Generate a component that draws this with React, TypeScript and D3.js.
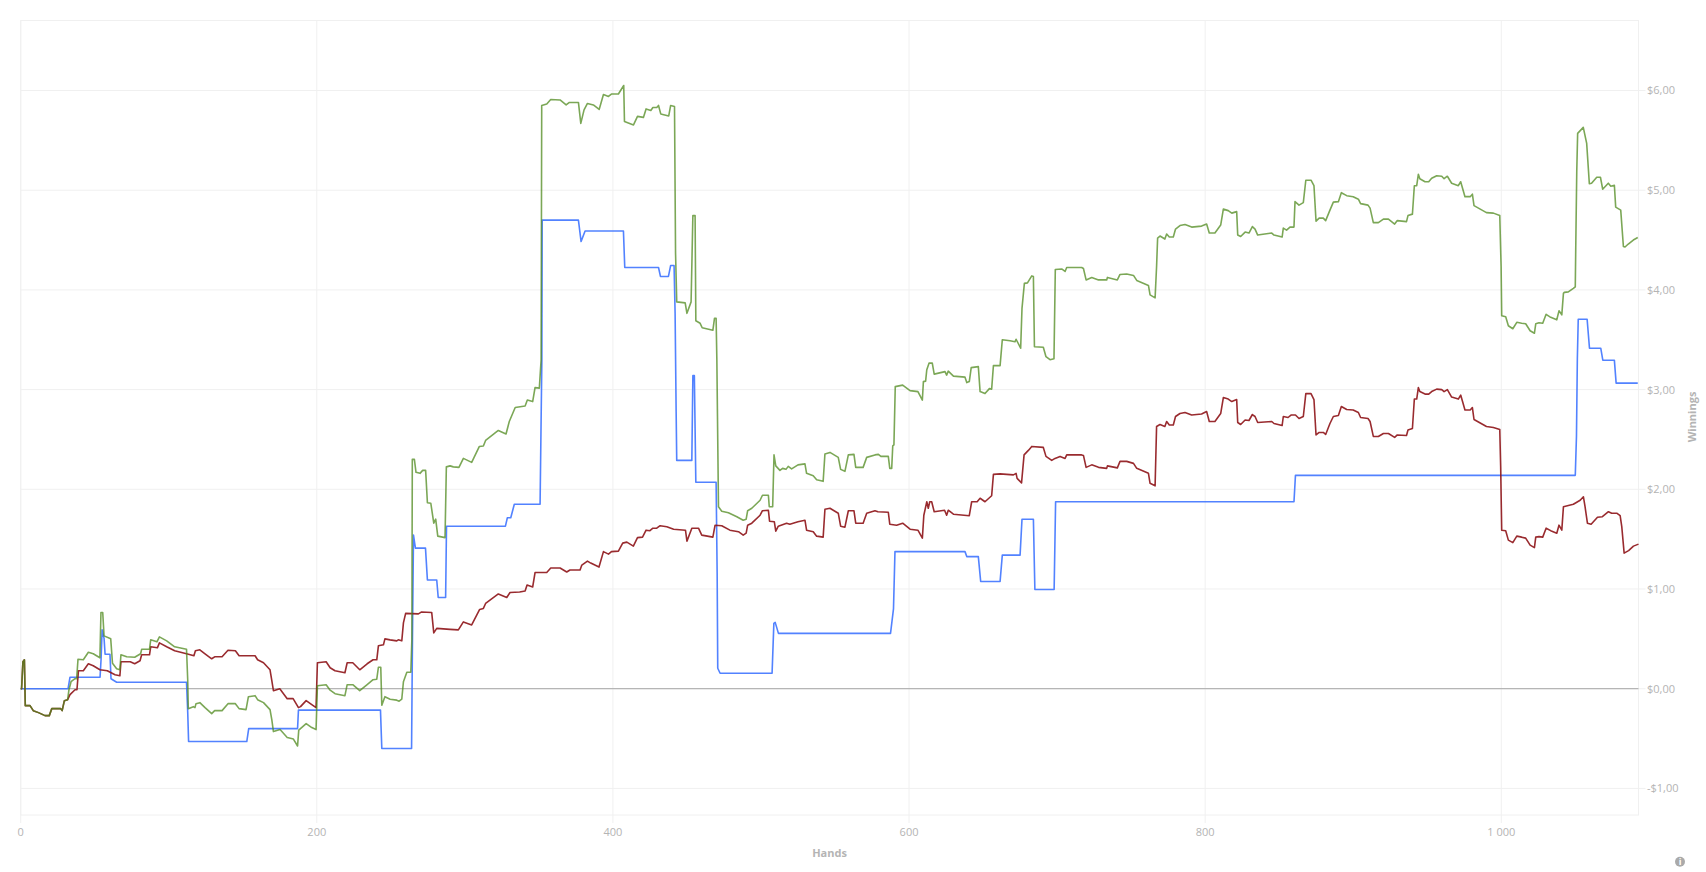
import React from "react";
import * as d3 from "d3";

type P = [number, number];

const xTicks: number[] = [0, 200, 400, 600, 800, 1000];
const xTickLabels: string[] = ["0", "200", "400", "600", "800", "1 000"];
const yTicks: number[] = [-1, 0, 1, 2, 3, 4, 5, 6];
const yTickLabels: string[] = ["-$1,00", "$0,00", "$1,00", "$2,00", "$3,00", "$4,00", "$5,00", "$6,00"];

const sharedStart: P[] = [[0,0],[0.6,0],[1.5,0.27],[2.5,0.29],[3.1,-0.17],[6.3,-0.17],[8.5,-0.22],[12,-0.24],[16.4,-0.27],[19.3,-0.27],[21,-0.2],[27,-0.2],[28,-0.22],[29.5,-0.12],[31.7,-0.11]];

const redSeries: P[] = [...sharedStart,
[33.3,-0.06],[36.7,-0.01],[38,-0.01],[39,0.18],[42.3,0.18],[45.7,0.25],[49,0.23],[53.5,0.19],[58.5,0.18],[63.7,0.14],[67,0.13],[67.7,0.27],[74,0.27],[77,0.25],[80.6,0.28],[81.7,0.34],[87,0.34],[87.8,0.42],[92.3,0.41],[93.7,0.46],[98.6,0.42],[104,0.38],[112,0.35],[117,0.33],[118,0.38],[121,0.39],[124.5,0.35],[129,0.30],[131,0.32],[136,0.32],[140,0.385],[145,0.38],[147.5,0.33],[158.3,0.33],[160,0.29],[164,0.26],[168.4,0.19],[169.5,0.09],[170.7,-0.02],[175,0.0],[180,-0.10],[184,-0.10],[187.6,-0.19],[189,-0.18],[192.8,-0.12],[196.6,-0.16],[199.5,-0.19],[200.4,0.26],[206.3,0.27],[209,0.21],[212.3,0.18],[219,0.16],[220.5,0.26],[224.3,0.26],[229,0.19],[234,0.25],[238,0.29],[240.5,0.29],[241.6,0.43],[245,0.44],[246,0.5],[249.5,0.49],[254,0.48],[255,0.49],[257.4,0.48],[258.5,0.66],[260,0.755],[268.6,0.75],[270.8,0.77],[277.6,0.765],[279,0.56],[281,0.605],[290,0.595],[295.6,0.59],[299,0.67],[304.6,0.64],[310,0.795],[312.5,0.805],[314,0.855],[322.6,0.95],[328.3,0.915],[330.5,0.965],[337,0.97],[340.7,0.98],[342,1.04],[345.8,1.02],[347.4,1.165],[355.3,1.165],[358,1.21],[364.3,1.21],[368.8,1.17],[371,1.19],[377.8,1.19],[379,1.24],[382.8,1.28],[385,1.26],[390.6,1.22],[393.6,1.375],[397,1.35],[399,1.375],[403.7,1.38],[406.6,1.46],[409.4,1.47],[413.8,1.43],[416.6,1.515],[420,1.52],[422.4,1.59],[425,1.585],[427,1.61],[429.6,1.61],[431.9,1.635],[436.4,1.625],[441,1.60],[449,1.59],[450,1.48],[453.3,1.61],[457.8,1.61],[460,1.54],[467.5,1.52],[469,1.64],[473.5,1.635],[479,1.59],[484.8,1.575],[488,1.54],[490,1.56],[491,1.64],[493.8,1.66],[499.4,1.74],[501,1.785],[505,1.79],[505.8,1.68],[509,1.675],[510,1.58],[511.7,1.63],[517.3,1.66],[519.5,1.65],[525,1.675],[529.7,1.69],[530.8,1.59],[535.3,1.575],[537.6,1.53],[542,1.52],[543.2,1.80],[546.6,1.81],[552.2,1.76],[553.8,1.63],[556.7,1.62],[559,1.785],[562.8,1.785],[564,1.66],[569,1.66],[571.4,1.76],[577,1.785],[579,1.775],[586,1.77],[587,1.65],[591.6,1.64],[595.7,1.66],[600.7,1.60],[606,1.59],[609,1.51],[610,1.74],[612,1.875],[613,1.81],[614,1.875],[615.3,1.875],[617,1.775],[624,1.79],[625.4,1.74],[626.5,1.79],[630,1.75],[640.7,1.735],[642.3,1.875],[646,1.875],[648,1.91],[651.3,1.875],[655.8,1.935],[657,2.15],[661.5,2.155],[670.5,2.145],[672.3,2.16],[673,2.11],[676,2.065],[677.7,2.345],[680.6,2.39],[682.9,2.43],[690.7,2.42],[692.5,2.33],[696.4,2.29],[698.6,2.31],[702,2.33],[705.4,2.31],[706.5,2.345],[716.6,2.345],[717.8,2.34],[719.6,2.22],[723.4,2.245],[728,2.22],[733.5,2.21],[734,2.235],[740.7,2.215],[742.5,2.28],[747,2.28],[751.6,2.26],[753.8,2.21],[761.7,2.16],[762.8,2.06],[766.2,2.035],[767.2,2.63],[769.5,2.65],[772.8,2.63],[774,2.68],[775.8,2.645],[778.5,2.645],[780,2.73],[783,2.76],[786.4,2.77],[790.9,2.745],[797.6,2.755],[801,2.78],[802.8,2.68],[806.6,2.68],[810.5,2.76],[812.3,2.92],[815.6,2.905],[818,2.88],[821.3,2.9],[822,2.67],[824,2.65],[827,2.695],[829.6,2.69],[831.9,2.75],[833.7,2.73],[835.5,2.67],[845,2.68],[846.5,2.66],[852,2.64],[852.8,2.73],[856,2.72],[858,2.745],[861,2.745],[863.4,2.71],[866.3,2.73],[868,2.96],[871.5,2.96],[873.5,2.90],[874.9,2.545],[877,2.57],[879.8,2.57],[881.4,2.55],[884.3,2.66],[886.6,2.73],[890,2.74],[892,2.83],[895.6,2.80],[900,2.795],[903.5,2.77],[905,2.72],[910,2.71],[911.4,2.68],[913.6,2.53],[917,2.53],[920.4,2.56],[923.8,2.56],[928,2.52],[929.8,2.545],[936,2.54],[937,2.595],[940,2.61],[941.3,2.905],[942.9,2.905],[944,3.02],[945,2.98],[948.5,2.955],[951,2.955],[953,2.98],[956.4,3.005],[959.8,3.0],[961.4,2.98],[963.6,3.0],[966.5,2.925],[971,2.905],[972.6,2.945],[975.5,2.795],[979,2.795],[980.5,2.82],[981.6,2.70],[990,2.63],[994.7,2.62],[999,2.60],[999.6,2.23],[1000.3,1.59],[1003,1.585],[1004.8,1.49],[1007.8,1.465],[1010.5,1.53],[1013.8,1.52],[1016.5,1.51],[1019.5,1.44],[1022.4,1.415],[1023.3,1.52],[1025.5,1.525],[1028,1.52],[1030.3,1.61],[1033.4,1.585],[1037.5,1.56],[1039,1.64],[1040.9,1.59],[1042,1.825],[1048.7,1.85],[1053.3,1.89],[1055.5,1.925],[1056.6,1.825],[1058.2,1.66],[1060.7,1.65],[1065,1.72],[1068.3,1.725],[1072.4,1.775],[1074.6,1.76],[1078,1.76],[1080.3,1.735],[1081.4,1.625],[1083,1.36],[1086,1.385],[1089.3,1.43],[1092.7,1.45]];

const greenSeries: P[] = [...sharedStart,
[32.6,-0.01],[34,0.07],[36.7,0.10],[37.8,0.10],[38.7,0.295],[42.3,0.29],[45.7,0.365],[49,0.35],[53.5,0.31],[54.2,0.765],[55.4,0.765],[56.3,0.53],[60.8,0.50],[62,0.255],[64.8,0.2],[67,0.19],[67.7,0.34],[71.6,0.32],[77,0.315],[81,0.35],[81.7,0.395],[87,0.395],[87.8,0.49],[92,0.47],[93.7,0.52],[98.6,0.48],[104,0.42],[112,0.395],[112.8,0.09],[113.2,-0.2],[116.6,-0.18],[117.7,-0.19],[118.4,-0.15],[121,-0.14],[124.5,-0.19],[129,-0.25],[131,-0.22],[136,-0.22],[140,-0.15],[145,-0.15],[147.5,-0.2],[152.2,-0.21],[153.8,-0.08],[158.3,-0.07],[160,-0.11],[164,-0.14],[168.4,-0.21],[169.6,-0.31],[170.7,-0.43],[175.2,-0.41],[180,-0.49],[184.2,-0.505],[187,-0.575],[187.8,-0.415],[192.8,-0.35],[196.6,-0.39],[199.5,-0.41],[200.4,0.03],[206.3,0.04],[209,-0.015],[212.3,-0.05],[219,-0.07],[220.5,0.04],[224.3,0.04],[229,-0.02],[234,0.04],[238,0.09],[240.5,0.095],[241.6,0.215],[243.2,0.215],[243.9,-0.165],[246,-0.08],[249.5,-0.105],[254,-0.115],[255.6,-0.125],[257.4,-0.105],[258.5,0.07],[260.8,0.165],[263.5,0.165],[264.2,0.49],[264.5,2.30],[265.9,2.30],[267,2.17],[269.7,2.16],[271.5,2.19],[273.5,2.19],[274.7,1.865],[277,1.86],[279,1.66],[280.3,1.70],[281.7,1.53],[286.6,1.515],[287.5,2.225],[290,2.235],[292.2,2.225],[296,2.22],[299,2.31],[304.6,2.27],[309.8,2.43],[312.5,2.435],[314,2.49],[322.6,2.59],[327.8,2.555],[330,2.68],[334,2.82],[340.7,2.835],[342.2,2.895],[345.8,2.88],[347.4,3.02],[350.3,3.015],[351.5,3.30],[351.9,5.85],[355.3,5.865],[358,5.91],[364.3,5.905],[368.4,5.855],[370.6,5.88],[376.7,5.88],[378.3,5.67],[380.5,5.805],[382.8,5.87],[386.8,5.855],[390.7,5.81],[393.6,5.96],[397,5.94],[399.2,5.965],[403.7,5.965],[407.3,6.05],[407.8,5.69],[413.9,5.655],[416.6,5.74],[420.6,5.73],[422.4,5.815],[425.6,5.80],[427,5.83],[429.6,5.83],[430.8,5.85],[432.3,5.765],[437.7,5.745],[439,5.85],[441.6,5.84],[442.3,4.37],[443.1,3.88],[448.8,3.87],[450,3.765],[452.8,3.88],[454,4.745],[455.5,4.745],[456,3.69],[458.9,3.665],[460.3,3.62],[467.5,3.595],[468.6,3.715],[469.7,3.715],[470.2,3.30],[470.6,2.76],[471.3,1.825],[473.5,1.78],[478,1.765],[483.7,1.725],[488,1.69],[490,1.70],[491,1.785],[493.8,1.81],[499.4,1.89],[501,1.94],[505,1.94],[505.6,1.825],[507.9,1.825],[508.8,2.345],[510,2.235],[512.8,2.19],[514.6,2.21],[516.9,2.2],[518.4,2.23],[520.7,2.205],[525,2.245],[529.7,2.255],[530.8,2.16],[535.3,2.135],[537.6,2.095],[542,2.08],[543.2,2.355],[546.6,2.37],[552.2,2.32],[553.8,2.20],[556.7,2.18],[559,2.345],[562.8,2.35],[564,2.22],[569,2.22],[571.4,2.32],[577,2.345],[579.3,2.35],[581,2.33],[586,2.33],[587,2.21],[588.3,2.21],[589,2.435],[589.8,2.445],[590.7,3.03],[595.7,3.045],[600.7,2.99],[606,2.98],[609,2.895],[609.7,3.08],[611.2,3.085],[612,3.20],[613.5,3.265],[615.7,3.265],[617,3.155],[624.3,3.18],[625.4,3.145],[626.5,3.185],[630,3.135],[637.8,3.125],[639,3.07],[640.7,3.08],[642,3.22],[646.8,3.23],[648,2.98],[651.3,2.96],[654.3,3.01],[655.8,3.005],[657,3.24],[661.5,3.24],[663,3.50],[668.2,3.49],[671.6,3.48],[672.3,3.505],[675.4,3.415],[676.3,3.815],[677.9,4.065],[680,4.07],[682.9,4.14],[684,4.135],[684.7,3.43],[690.7,3.425],[692.5,3.33],[695.2,3.30],[697.9,3.31],[698.8,4.205],[703.1,4.21],[705.4,4.185],[706.5,4.225],[716.6,4.225],[717.8,4.215],[719.6,4.10],[723.4,4.125],[728,4.10],[733.5,4.10],[734,4.125],[740.7,4.10],[742.5,4.155],[747,4.16],[751.6,4.145],[753.8,4.095],[761.7,4.045],[762.8,3.95],[766.2,3.92],[767.2,4.235],[767.9,4.52],[769.5,4.54],[772.8,4.51],[774,4.56],[775.8,4.53],[778.5,4.53],[780,4.61],[783,4.645],[786.4,4.655],[790.9,4.63],[797.6,4.64],[801,4.66],[802.8,4.57],[806.6,4.57],[810.5,4.65],[812.3,4.81],[815.6,4.795],[818,4.77],[821.3,4.785],[822,4.55],[824,4.535],[827,4.58],[829.6,4.57],[831.9,4.635],[833.7,4.61],[835.5,4.55],[845,4.57],[846.5,4.55],[852,4.53],[852.8,4.62],[855,4.60],[857.3,4.63],[860,4.63],[860.7,4.885],[863.4,4.85],[866.3,4.875],[868,5.10],[871.5,5.10],[873.5,5.045],[874.9,4.69],[877,4.72],[879.8,4.72],[881.4,4.695],[884.3,4.80],[886.6,4.88],[890,4.885],[892,4.975],[895.6,4.945],[900,4.935],[903.5,4.91],[905,4.865],[910,4.85],[911.4,4.82],[913.6,4.675],[917,4.675],[920.4,4.71],[923.8,4.71],[928,4.66],[929.8,4.695],[936,4.685],[937,4.745],[940,4.76],[941.3,5.045],[942.9,5.045],[944,5.16],[945,5.115],[948.5,5.085],[951,5.085],[953,5.12],[956.4,5.145],[959.8,5.14],[961.4,5.115],[963.6,5.14],[966.5,5.07],[971,5.045],[972.6,5.085],[975.5,4.935],[979,4.935],[980.5,4.96],[981.6,4.845],[990,4.775],[994.7,4.77],[999,4.745],[999.9,4.235],[1000.3,3.74],[1003,3.73],[1004.8,3.64],[1007.8,3.61],[1010.5,3.675],[1013.8,3.665],[1016.5,3.66],[1019.5,3.59],[1022.4,3.565],[1023.3,3.66],[1025.5,3.67],[1028,3.665],[1030.3,3.755],[1033.4,3.725],[1037.5,3.70],[1039,3.79],[1040.9,3.75],[1042,3.965],[1042.6,3.975],[1045.3,3.98],[1048.7,4.015],[1050,4.03],[1050.3,4.40],[1051,5.19],[1051.6,5.57],[1055.4,5.63],[1057.7,5.47],[1059.5,5.065],[1061,5.07],[1064.5,5.13],[1067,5.13],[1068.5,5.01],[1072.3,5.07],[1074,5.04],[1076.4,5.05],[1077.3,4.83],[1080.7,4.80],[1082.5,4.435],[1083.6,4.43],[1085.8,4.46],[1089.2,4.50],[1092.2,4.525]];

const blueSeries: P[] = [[0,0],[32,0],[33.3,0.115],[53.6,0.115],[54.3,0.3],[55,0.59],[56.3,0.505],[57,0.345],[60.3,0.345],[61,0.10],[64.8,0.065],[112,0.065],[112.8,-0.23],[113.4,-0.53],[152.7,-0.53],[154,-0.40],[187,-0.40],[187.6,-0.215],[243,-0.215],[243.9,-0.60],[264,-0.60],[264.6,0.49],[265.3,1.54],[266.6,1.41],[273.4,1.41],[274.7,1.09],[281,1.09],[282,0.915],[287,0.915],[287.6,1.63],[327.4,1.63],[328.7,1.715],[331,1.715],[333.4,1.85],[350.8,1.85],[352,3.30],[352.2,4.70],[376.7,4.70],[378.5,4.485],[381.2,4.59],[407.1,4.59],[408,4.225],[430.8,4.225],[432.1,4.135],[437.5,4.135],[439,4.245],[441.3,4.245],[442,3.765],[442.7,2.78],[443.1,2.29],[453.3,2.29],[454,3.14],[455,3.14],[455.5,2.61],[456,2.07],[469.7,2.07],[470.4,1.16],[470.8,0.205],[472.4,0.155],[507.5,0.155],[508.7,0.655],[509.6,0.665],[511.8,0.555],[587.5,0.555],[589.5,0.8],[590.5,1.375],[637.8,1.375],[639,1.325],[646.8,1.325],[648.4,1.075],[661.5,1.075],[663,1.34],[675,1.34],[676.3,1.70],[684,1.70],[685,0.995],[698,0.995],[699,1.875],[860,1.875],[861,2.14],[1050,2.14],[1050.8,2.53],[1051.4,3.315],[1052,3.705],[1058,3.705],[1059.6,3.415],[1067.2,3.415],[1068.6,3.295],[1076.4,3.295],[1077.6,3.065],[1092.2,3.065]];

const plot = { left: 20.7, right: 1638.5, top: 20.5, bottom: 815 };
const x = d3.scaleLinear().domain([0, 1092.7]).range([plot.left, plot.right]);
const y = d3.scaleLinear().domain([-1.2668, 6.702]).range([plot.bottom, plot.top]);
const line = d3.line<P>().x((d) => x(d[0])).y((d) => y(d[1]));

const GRID = "#f0f0f0";
const TEXT = "#b4b4b4";
const FONT = "'Open Sans', sans-serif";

export default function App() {
  return (
    <svg width={1706} height={872} style={{ position: "absolute", left: 0, top: 0, display: "block", background: "#fff" }}>
      <rect x={plot.left} y={plot.top} width={plot.right - plot.left} height={plot.bottom - plot.top} fill="none" stroke={GRID} strokeWidth={1} />
      {xTicks.map((t, i) => (
        <g key={t}>
          <line x1={x(t)} x2={x(t)} y1={plot.top} y2={plot.bottom + 8} stroke={GRID} />
          <text x={x(t)} y={836} textAnchor="middle" fontFamily={FONT} fontSize={11} fill={TEXT}>{xTickLabels[i]}</text>
        </g>
      ))}
      {yTicks.map((t, i) => (
        <g key={t}>
          <line x1={plot.left} x2={plot.right + 7} y1={y(t)} y2={y(t)} stroke={GRID} />
          <text x={1647} y={y(t) + 4} fontFamily={FONT} fontSize={11} fill={TEXT}>{yTickLabels[i]}</text>
        </g>
      ))}
      <line x1={plot.left} x2={plot.right} y1={y(0)} y2={y(0)} stroke="#b5b5b5" strokeWidth={1.3} />
      <path d={line(blueSeries) ?? ""} fill="none" stroke="#3f74ff" strokeWidth={1.6} strokeOpacity={0.9} strokeLinejoin="round" />
      <path d={line(redSeries) ?? ""} fill="none" stroke="#8e1418" strokeWidth={1.6} strokeOpacity={0.9} strokeLinejoin="round" />
      <path d={line(greenSeries) ?? ""} fill="none" stroke="#4f8a1e" strokeWidth={1.6} strokeOpacity={0.75} strokeLinejoin="round" />
      <text x={829.5} y={857} textAnchor="middle" fontFamily={FONT} fontSize={11} fontWeight={700} fill={TEXT}>Hands</text>
      <text transform="translate(1696,417) rotate(-90)" textAnchor="middle" fontFamily={FONT} fontSize={11} fontWeight={700} fill={TEXT}>Winnings</text>
      <circle cx={1680} cy={861.7} r={5} fill="#aaaaaa" />
      <text x={1680} y={865} textAnchor="middle" fontFamily={FONT} fontSize={9} fontWeight={700} fill="#fff">i</text>
    </svg>
  );
}
